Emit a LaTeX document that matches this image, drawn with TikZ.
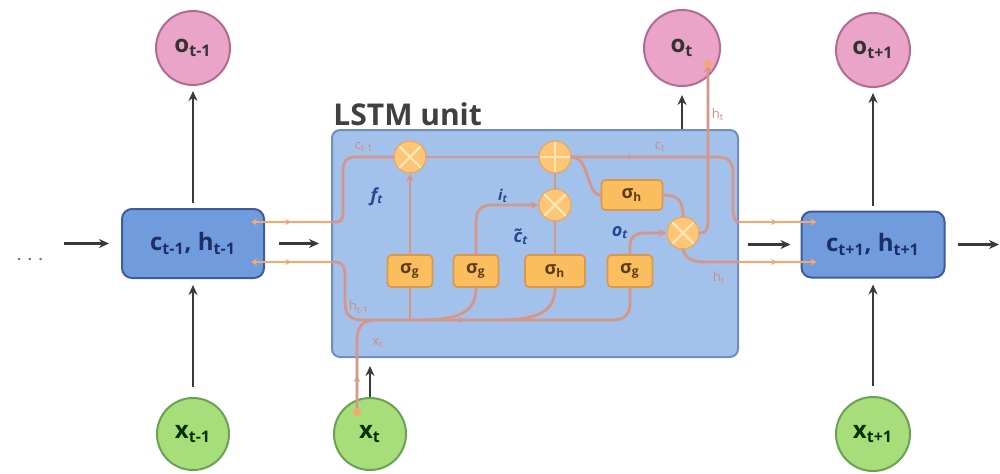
\documentclass[tikz,border=0pt]{standalone}
\usepackage{fontspec}
\setmainfont{Open Sans}
\usetikzlibrary{arrows.meta,decorations.markings}
\definecolor{pinkf}{RGB}{234,164,200}
\definecolor{pinkd}{RGB}{178,108,148}
\definecolor{greenf}{RGB}{168,222,122}
\definecolor{greend}{RGB}{104,162,82}
\definecolor{boxf}{RGB}{112,156,222}
\definecolor{boxd}{RGB}{62,92,152}
\definecolor{lstmf}{RGB}{162,194,236}
\definecolor{lstmd}{RGB}{112,142,192}
\definecolor{sigf}{RGB}{250,190,95}
\definecolor{sigd}{RGB}{222,150,72}
\definecolor{gatef}{RGB}{252,198,118}
\definecolor{gated}{RGB}{232,168,96}
\definecolor{crossc}{RGB}{255,230,185}
\definecolor{wirec}{RGB}{214,150,136}
\definecolor{owirec}{RGB}{242,168,112}
\definecolor{arrowc}{RGB}{58,58,58}
\definecolor{textblue}{RGB}{28,46,100}
\definecolor{gateblue}{RGB}{40,72,142}
\definecolor{wlabel}{RGB}{212,138,118}
\definecolor{sigtext}{RGB}{90,60,22}
\begin{document}
\begin{tikzpicture}[x=0.5pt,y=-0.5pt,
  arr/.style={draw=arrowc, line width=1.1pt, -{Stealth[length=5pt,width=4.5pt]}},
  wire/.style={draw=wirec, line width=1.4pt, line cap=round, line join=round},
  wtip/.style={-{Stealth[length=4pt,width=4pt]}},
  owire/.style={draw=owirec, line width=0.9pt},
  midarrow/.style={postaction={decorate}, decoration={markings, mark=at position #1 with {\arrow{Stealth[length=3pt,width=3pt]}}}},
  pinkc/.style={circle, draw=pinkd, fill=pinkf, line width=1pt, minimum size=37pt, inner sep=0pt, text=black!80, font=\fontsize{12}{14}\selectfont\bfseries},
  greenc/.style={circle, draw=greend, fill=greenf, line width=1pt, minimum size=36pt, inner sep=0pt, text=green!20!black, font=\fontsize{12}{14}\selectfont\bfseries},
  cbox/.style={rectangle, rounded corners=5pt, draw=boxd, fill=boxf, line width=1pt, inner sep=0pt, text=textblue, font=\fontsize{12}{14}\selectfont\bfseries},
  sigbox/.style={rectangle, rounded corners=2pt, draw=sigd, fill=sigf, line width=0.8pt, inner sep=0pt, minimum height=16pt, minimum width=22.5pt, text=sigtext, font=\fontsize{9}{10}\selectfont\bfseries},
  gate/.style={circle, fill=gatef, draw=gated, line width=0.6pt, minimum size=16pt, inner sep=0pt},
  mul/.style={gate, path picture={\draw[crossc, line width=1.2pt] (path picture bounding box.north west) -- (path picture bounding box.south east) (path picture bounding box.north east) -- (path picture bounding box.south west);}},
  plus/.style={gate, path picture={\draw[crossc, line width=1.2pt] (path picture bounding box.north) -- (path picture bounding box.south) (path picture bounding box.east) -- (path picture bounding box.west);}},
  glabel/.style={text=gateblue, font=\fontsize{9}{10}\selectfont\bfseries\itshape, inner sep=0pt},
  wlab/.style={text=wlabel, font=\fontsize{6.5}{7}\selectfont, inner sep=0pt}
]
\useasboundingbox (0,0) rectangle (1000,473);

% main units
\node[cbox, minimum width=71pt, minimum height=34.5pt] (ctm1) at (193,243.5) {c\textsubscript{t-1}, h\textsubscript{t-1}};
\node[rectangle, rounded corners=4pt, draw=lstmd, fill=lstmf, line width=1pt, minimum width=203pt, minimum height=113.5pt, inner sep=0pt] (lstm) at (535,243.5) {};
\node[cbox, minimum width=71.5pt, minimum height=33pt] (ctp1) at (873,244.5) {c\textsubscript{t+1}, h\textsubscript{t+1}};
\node[anchor=base west, inner sep=0pt, text=black!75, font=\fontsize{15}{18}\selectfont\bfseries] (title) at (333,125) {LSTM unit};

% circles
\node[pinkc] (otm1) at (193,48) {o\textsubscript{t-1}};
\node[pinkc, minimum size=38pt] (ot) at (682,48) {o\textsubscript{t}};
\node[pinkc] (otp1) at (873,50) {o\textsubscript{t+1}};
\node[greenc] (xtm1) at (193,434) {x\textsubscript{t-1}};
\node[greenc] (xt) at (370,434) {x\textsubscript{t}};
\node[greenc, minimum size=37pt] (xtp1) at (873,434) {x\textsubscript{t+1}};
\node[text=black!55, font=\fontsize{12}{14}\selectfont, inner sep=0pt] (dots) at (30,260) {$\cdots$};
\coordinate (rend) at (999,244.5);

% black arrows
\draw[arr, shorten <=10pt, shorten >=6pt] (dots.east |- ctm1) -- (ctm1.west);
\draw[arr, shorten <=5pt, shorten >=3pt] (xtm1) -- (ctm1);
\draw[arr, shorten <=2.5pt, shorten >=2.5pt] (ctm1) -- (otm1);
\draw[arr, shorten <=7pt, shorten >=6pt] (ctm1.east) -- (lstm.west |- ctm1.east);
\draw[arr, shorten >=4pt] (xt.north) -- (xt.north |- lstm.south);
\draw[arr, shorten >=4pt] (lstm.north -| ot) -- (ot);
\draw[arr, shorten <=4.5pt, shorten >=5pt] (lstm.east |- ctp1.west) -- (ctp1.west);
\draw[arr, shorten <=5pt, shorten >=3pt] (xtp1) -- (ctp1);
\draw[arr, shorten <=2.5pt, shorten >=2.5pt] (ctp1) -- (otp1);
\draw[arr, shorten <=6pt] (ctp1.east) -- (rend);

% gates and activations
\node[mul] (fg) at (410,157) {};
\node[plus] (add) at (555,157) {};
\node[mul] (ig) at (555,205) {};
\node[mul] (og) at (683,233) {};
\node[sigbox] (sg1) at (410,271) {σ\textsubscript{g}};
\node[sigbox] (sg2) at (476,271) {σ\textsubscript{g}};
\node[sigbox, minimum width=30pt] (sh1) at (555,271) {σ\textsubscript{h}};
\node[sigbox] (sg3) at (630,271) {σ\textsubscript{g}};
\node[sigbox, minimum width=30.5pt, minimum height=15pt] (sh2) at (632,195) {σ\textsubscript{h}};

% in/out coordinates
\coordinate (cinL) at (332,222);
\coordinate (hinL) at (332,262);
\coordinate (coutR) at (738,222);
\coordinate (houtR) at (738,262);
\coordinate (xtin) at (357,412);
\coordinate (htop) at (708,64);

% outer orange wires
\draw[owire, midarrow=0.5, {Stealth[length=3pt,width=3.5pt]}-] ([xshift=-7pt]ctm1.east |- cinL) -- (cinL);
\draw[owire, midarrow=0.5, {Stealth[length=3pt,width=3.5pt]}-] ([xshift=-7pt]ctm1.east |- hinL) -- (hinL);
\draw[owire, midarrow=0.5, -{Stealth[length=3pt,width=3.5pt]}] (coutR) -- ([xshift=8pt]ctp1.west |- coutR);
\draw[owire, midarrow=0.5, -{Stealth[length=3pt,width=3.5pt]}] (houtR) -- ([xshift=8pt]ctp1.west |- houtR);

% inner wires
\draw[wire] (cinL) -- (337,222) .. controls (343,222) and (343,216) .. (343,208) -- (343,170) .. controls (343,161) and (347,157) .. (356,157) -- (fg.west);
\draw[wire] (fg.east) -- (add.west);
\draw[wire, midarrow=31pt] (add.east) -- (718,157) .. controls (728,157) and (733,162) .. (733,172) -- (733,208) .. controls (733,217) and (735,222) .. (coutR);
\draw[wire, midarrow=90pt] (hinL) -- (336,262) .. controls (343,262) and (345,268) .. (345,278) -- (345,303) .. controls (345,314) and (350,320) .. (362,320) -- (612,320) .. controls (625,320) and (630,314) .. (630,303) -- (sg3.south);
\draw[wire, midarrow=18pt] (xtin) -- (357,340) .. controls (357,328) and (362,320) .. (375,320);
\fill[owirec] (xtin) circle (2pt);
\draw[wire] (410,320) -- (sg1.south);
\draw[wire, wtip] (sg1.north) -- (fg.south);
\draw[wire] (422,320) .. controls (468,320) and (476,306) .. (sg2.south);
\draw[wire, wtip] (sg2.north) -- (476,222) .. controls (476,210) and (481,205) .. (492,205) -- (ig.west);
\draw[wire] (500,320) .. controls (546,320) and (555,306) .. (sh1.south);
\draw[wire] (sh1.north) -- (ig.south);
\draw[wire] (ig.north) -- (add.south);
\draw[wire] (add.east) .. controls (590,157) and (586,195) .. (sh2.west);
\draw[wire] (sh2.east) .. controls (680,195) and (683,203) .. (og.north);
\draw[wire, wtip] (sg3.north) -- (630,246) .. controls (630,237) and (635,233) .. (645,233) -- (og.west);
\draw[wire, wtip] (og.east) -- (700,233) .. controls (706,233) and (708,229) .. (708,222) -- (htop);
\fill[owirec] (htop) circle (2pt);
\draw[wire] (og.south) .. controls (684,256) and (690,262) .. (705,262) -- (houtR);

% wire labels
\node[wlab] (lc1) at (364,147) {c\textsubscript{t-1}};
\node[wlab] (lc2) at (660,147) {c\textsubscript{t}};
\node[wlab] (lh1) at (359,307) {h\textsubscript{t-1}};
\node[wlab] (lx) at (378,343) {x\textsubscript{t}};
\node[wlab] (lh2) at (719,278) {h\textsubscript{t}};
\node[wlab] (lh3) at (718,115) {h\textsubscript{t}};

% gate labels
\node[glabel] (lf) at (377,197) {f\textsubscript{t}};
\node[glabel, font=\fontsize{7.5}{9}\selectfont\bfseries\itshape] (li) at (503,196) {i\textsubscript{t}};
\node[glabel] (lct) at (521,237) {\~{c}\textsubscript{t}};
\node[glabel] (lo) at (620,233) {o\textsubscript{t}};
\end{tikzpicture}
\end{document}
